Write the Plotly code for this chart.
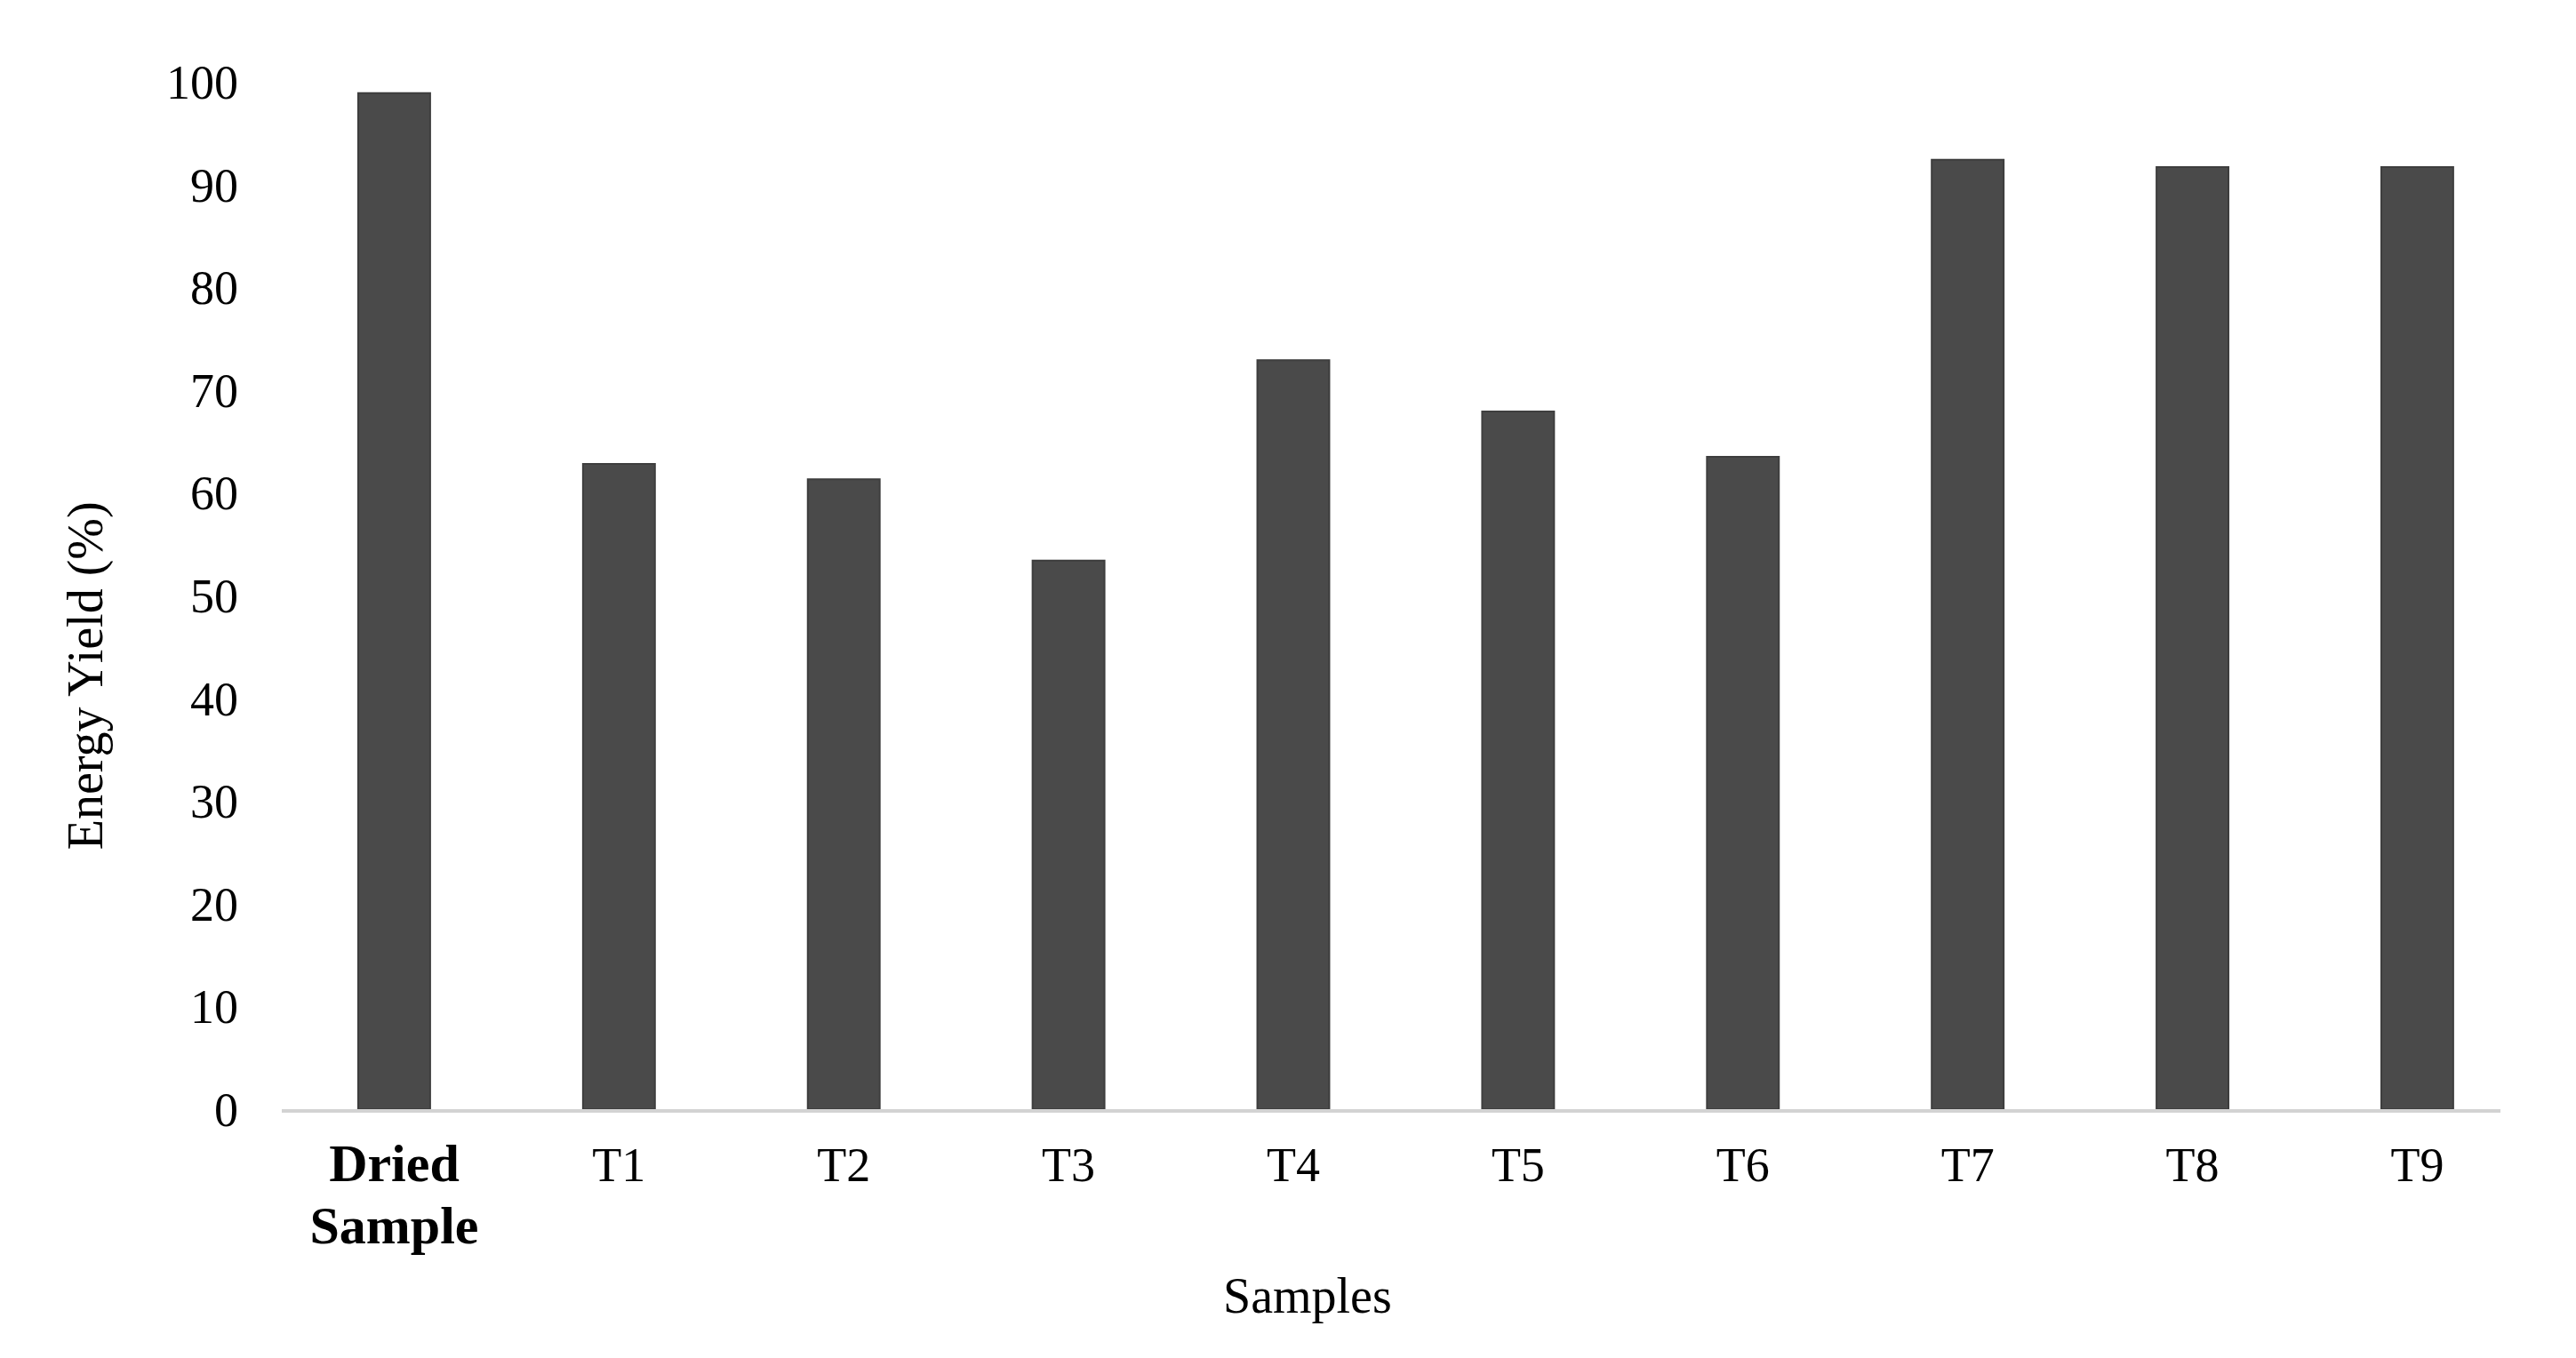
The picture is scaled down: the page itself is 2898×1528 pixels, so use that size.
import plotly.graph_objects as go

# Data
samples = ["Dried Sample", "T1", "T2", "T3", "T4", "T5", "T6", "T7", "T8", "T9"]
tick_labels = [
    '<b><span style="font-size:60px">Dried</span></b><br><b><span style="font-size:60px">Sample</span></b>',
    "T1", "T2", "T3", "T4", "T5", "T6", "T7", "T8", "T9",
]
energy_yield = [98.9, 62.8, 61.3, 53.4, 72.9, 67.9, 63.5, 92.4, 91.7, 91.7]

y_ticks = list(range(0, 101, 10))

FONT = "Liberation Serif, Times New Roman, serif"
BAR_COLOR = "#4a4a4a"

fig = go.Figure()

fig.add_trace(go.Bar(
    x=samples, y=energy_yield,
    width=0.32,
    marker=dict(color=BAR_COLOR, line=dict(color="#3e3e3e", width=2)),
    showlegend=False,
    hovertemplate="%{x}: %{y}<extra></extra>",
))

fig.update_layout(
    width=2898, height=1528,
    margin=dict(l=309, r=93, t=84, b=288),
    plot_bgcolor="white",
    paper_bgcolor="white",
    font=dict(family=FONT, color="black", size=54),
)

fig.update_xaxes(
    range=[-0.5, 9.37],
    tickmode="array", tickvals=samples, ticktext=tick_labels,
    tickfont=dict(family=FONT, size=54, color="black"),
    ticks="", ticklabelstandoff=12,
    showgrid=False, zeroline=False,
    showline=True, linecolor="#d3d3d3", linewidth=4,
)

fig.update_yaxes(
    range=[0, 100],
    tickmode="array", tickvals=y_ticks,
    tickfont=dict(family=FONT, size=54, color="black"),
    ticks="", ticklabelstandoff=48,
    showgrid=False, zeroline=False, showline=False,
)

# axis titles sit off-centre in the reference, so place them as annotations
fig.add_annotation(
    text="Energy Yield (%)", textangle=-90,
    xref="paper", yref="paper", x=-0.0885, y=0.422,
    xanchor="center", yanchor="middle", showarrow=False,
    font=dict(family=FONT, size=56, color="black"),
)
fig.add_annotation(
    text="Samples",
    xref="paper", yref="paper", x=0.4623, y=-0.182,
    xanchor="center", yanchor="middle", showarrow=False,
    font=dict(family=FONT, size=56, color="black"),
)

fig.write_html("out.html")
